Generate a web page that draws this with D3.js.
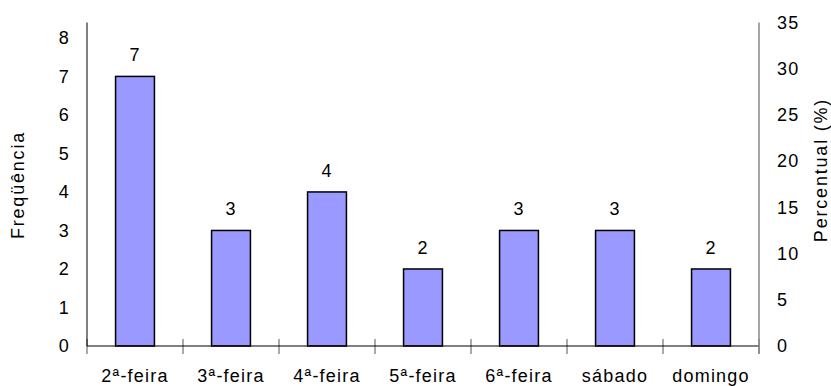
<!DOCTYPE html>
<html>
<head>
<meta charset="utf-8">
<style>
    body { margin: 0; background: white; }
    text { font-family: "Liberation Sans", Arial, sans-serif; font-size: 18px; letter-spacing: 1.2px; fill: black; }
    .title { letter-spacing: 1.8px; }
</style>
</head>
<body>
    <svg id="container" height="386" width="831">
        <g id="body" />
    </svg>
<script src="https://d3js.org/d3.v7.min.js"></script>
<script>
    let days = ["2ª-feira", "3ª-feira", "4ª-feira", "5ª-feira", "6ª-feira", "sábado", "domingo"]
    let counts = [7, 3, 4, 2, 3, 3, 2]
    let countTicks = [0, 1, 2, 3, 4, 5, 6, 7, 8]
    let percentTicks = [0, 5, 10, 15, 20, 25, 30, 35]

    let body = d3.select("#body")
    let plotLeft = 87, plotRight = 759, plotTop = 22.5, plotBottom = 346

    let total = d3.sum(counts)
    let maxPercent = 35

    let x = d3.scaleBand()
        .domain(days)
        .range([plotLeft, plotRight])
        .paddingInner(0.595)
        .paddingOuter(0.2975)

    // left axis in counts, scaled so 35% lines up on the right
    let y = d3.scaleLinear()
        .domain([0, total * maxPercent / 100])
        .range([plotBottom, plotTop])

    let yPct = d3.scaleLinear()
        .domain([0, maxPercent])
        .range([plotBottom, plotTop])

    // bars
    body.selectAll("rect").data(days)
        .enter().append("rect")
        .attr("x", d => x(d))
        .attr("width", x.bandwidth())
        .attr("y", (d, i) => y(counts[i]))
        .attr("height", (d, i) => y(0) - y(counts[i]))
        .attr("fill", "#9999ff")
        .attr("stroke", "black")
        .attr("stroke-width", 1.5)

    // value labels
    body.selectAll(".value").data(days)
        .enter().append("text")
        .attr("class", "value")
        .attr("x", d => x(d) + x.bandwidth() / 2)
        .attr("y", (d, i) => y(counts[i]) - 15)
        .attr("text-anchor", "middle")
        .text((d, i) => counts[i])

    // x axis
    let step = x.step()
    let boundaries = d3.range(days.length + 1).map(i => plotLeft + i * step)
    body.selectAll(".xtick").data(boundaries)
        .enter().append("line")
        .attr("x1", d => d).attr("x2", d => d)
        .attr("y1", plotBottom - 7).attr("y2", plotBottom + 8)
        .attr("stroke", "#555")
        .attr("stroke-width", 1)

    body.append("line")
        .attr("x1", plotLeft).attr("x2", plotRight)
        .attr("y1", plotBottom).attr("y2", plotBottom)
        .attr("stroke", "black")

    body.selectAll(".xlabel").data(days)
        .enter().append("text")
        .attr("x", d => x(d) + x.bandwidth() / 2)
        .attr("y", 382)
        .attr("text-anchor", "middle")
        .text(d => d)

    // left axis
    body.append("line")
        .attr("x1", plotLeft).attr("x2", plotLeft)
        .attr("y1", plotTop).attr("y2", plotBottom)
        .attr("stroke", "black")

    body.selectAll(".ylabel").data(countTicks)
        .enter().append("text")
        .attr("x", 70)
        .attr("y", d => y(d))
        .attr("dy", "0.35em")
        .attr("text-anchor", "end")
        .text(d => d)

    body.append("text")
        .attr("class", "title")
        .attr("transform", "translate(24,185) rotate(-90)")
        .attr("text-anchor", "middle")
        .text("Freqüência")

    // right axis
    body.append("line")
        .attr("x1", plotRight).attr("x2", plotRight)
        .attr("y1", plotTop).attr("y2", plotBottom + 8)
        .attr("stroke", "#888")
        .attr("stroke-width", 1.5)

    body.selectAll(".pctlabel").data(percentTicks)
        .enter().append("text")
        .attr("x", 777)
        .attr("y", d => yPct(d))
        .attr("dy", "0.35em")
        .text(d => d)

    body.append("text")
        .attr("class", "title")
        .attr("transform", "translate(827,170) rotate(-90)")
        .attr("text-anchor", "middle")
        .text("Percentual (%)")
</script>
</body>
</html>
